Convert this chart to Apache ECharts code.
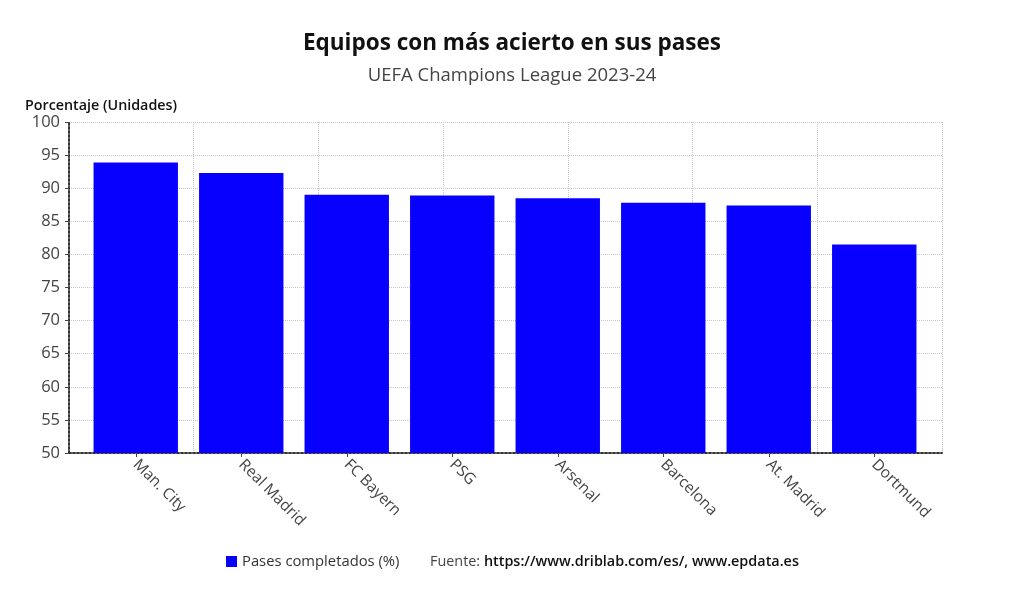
<!DOCTYPE html>
<html>
<head>
<meta charset="utf-8">
<script src="https://cdn.jsdelivr.net/npm/echarts@6/dist/echarts.min.js"></script>
<style>
html,body{margin:0;padding:0;background:#fff;}
#c{width:1024px;height:601px;}
</style>
</head>
<body>
<div id="c"></div>
<script>
const categories = ['Man. City','Real Madrid','FC Bayern','PSG','Arsenal','Barcelona','At. Madrid','Dortmund'];
const pasesCompletados = [93.9, 92.3, 89.0, 88.9, 88.5, 87.8, 87.4, 81.5];
const seriesName = 'Pases completados (%)';
const yTicks = {min: 50, max: 100, interval: 5};

const font = '"Open Sans", "Noto Sans", sans-serif';
const chart = echarts.init(document.getElementById('c'), null, {renderer: 'canvas'});
chart.setOption({
  animation: false,
  textStyle: {fontFamily: font},
  title: [
    {text: 'Equipos con más acierto en sus pases', left: 'center', top: 27,
     textStyle: {fontFamily: font, fontSize: 22.5, fontWeight: 'bold', color: '#111'}},
    {text: 'UEFA Champions League 2023-24', left: 'center', top: 61,
     textStyle: {fontFamily: font, fontSize: 18.5, fontWeight: 'normal', color: '#444'}},
    {text: 'Porcentaje (Unidades)', left: 20, top: 94,
     textStyle: {fontFamily: font, fontSize: 14.3, fontWeight: 600, color: '#111'}}
  ],
  legend: {
    left: 221, top: 549, itemWidth: 11, itemHeight: 11, icon: 'rect', itemGap: 5,
    textStyle: {fontFamily: font, fontSize: 14.8, color: '#333'},
    data: [{name: seriesName, itemStyle: {borderWidth: 0}}]
  },
  graphic: [{
    type: 'text', left: 430, top: 555,
    style: {
      text: '{a|Fuente: }{b|https://www.driblab.com/es/, www.epdata.es}',
      rich: {
        a: {fontFamily: font, fontSize: 14.4, fill: '#444', fontWeight: 'normal'},
        b: {fontFamily: font, fontSize: 14.4, fill: '#111', fontWeight: 600}
      }
    }
  }],
  grid: [
    {left: 83, right: 97, top: 122, bottom: 148},
    {left: 69, right: 82, top: 122, bottom: 148}
  ],
  xAxis: [
    {type: 'category', gridIndex: 0, data: categories, boundaryGap: true,
     axisLine: {show: false},
     axisTick: {show: true, alignWithLabel: true, length: 4, lineStyle: {color: '#444'}},
     splitLine: {show: false},
     axisLabel: {rotate: -45, fontSize: 15.5, color: '#444', fontFamily: font, margin: 9}},
    {type: 'value', gridIndex: 1, min: 0, max: 7, interval: 1,
     axisLine: {show: true, onZero: false, lineStyle: {color: '#333', type: 'dotted', width: 2}},
     axisTick: {show: false}, axisLabel: {show: false},
     splitLine: {show: true, lineStyle: {color: '#c8c8c8', type: 'dotted', width: 1}}}
  ],
  yAxis: [
    {type: 'value', gridIndex: 0, min: yTicks.min, max: yTicks.max, interval: yTicks.interval,
     axisLine: {show: false}, axisTick: {show: false}, axisLabel: {show: false}, splitLine: {show: false}},
    {type: 'value', gridIndex: 1, min: yTicks.min, max: yTicks.max, interval: yTicks.interval,
     axisLine: {show: true, lineStyle: {color: '#333', type: 'dotted', width: 2}},
     axisTick: {show: true, length: 4, lineStyle: {color: '#444'}},
     axisLabel: {fontSize: 16.5, color: '#444', fontFamily: font, margin: 9},
     splitLine: {show: true, lineStyle: {color: '#c8c8c8', type: 'dotted', width: 1}}}
  ],
  series: [{
    name: seriesName, type: 'bar', xAxisIndex: 0, yAxisIndex: 0,
    data: pasesCompletados, barCategoryGap: '20%',
    itemStyle: {color: '#0800ff', borderWidth: 0},
    z: 3
  }]
});
</script>
</body>
</html>
